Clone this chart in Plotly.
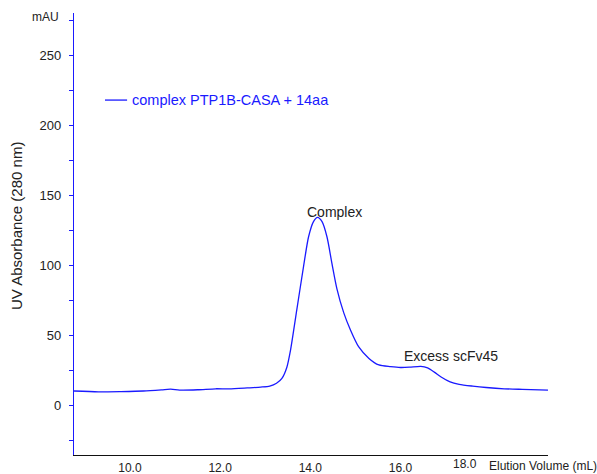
import plotly.graph_objects as go

# Elution volume (mL) and UV absorbance at 280 nm (mAU)
volume = [8.76, 9.3, 9.8, 10.3, 10.7, 10.9, 11.1, 11.5, 11.9, 12.2, 12.6, 12.9, 13.1,
          13.25, 13.37, 13.48, 13.56, 13.7, 13.85, 13.96, 14.07, 14.16, 14.26, 14.37,
          14.48, 14.59, 14.74, 14.89, 15.07, 15.3, 15.52, 15.78, 16.0, 16.2, 16.45,
          16.6, 16.75, 16.9, 17.1, 17.3, 17.6, 17.9, 18.3, 18.7, 19.27]
absorbance = [10.0, 9.4, 9.6, 10.0, 10.8, 11.3, 10.7, 10.9, 11.6, 11.5, 12.2, 12.8, 13.5,
              15.5, 19.0, 27.0, 39.0, 68.0, 99.0, 120.0, 131.0, 134.0, 131.0, 120.0,
              101.0, 83.0, 66.0, 53.6, 41.7, 33.3, 28.6, 27.4, 26.8, 27.0, 27.6,
              26.5, 23.5, 20.0, 16.5, 14.8, 13.5, 12.5, 11.6, 11.2, 10.7]

series_name = "complex PTP1B-CASA + 14aa"
x_ticks = [10, 12, 14, 16]
x_tick_text = ["10.0", "12.0", "14.0", "16.0"]
y_ticks = [0, 50, 100, 150, 200, 250]

# Peak annotations: (label, volume, absorbance at label centre)
peak_labels = [("Complex", 14.53, 138), ("Excess scFv45", 17.13, 35)]

FONT = "Liberation Sans, Arial, sans-serif"
BLUE = "#1a1aff"
INK = "#222222"

fig = go.Figure()
fig.add_trace(go.Scatter(
    x=volume, y=absorbance, mode="lines",
    line=dict(color=BLUE, width=1.3, shape="spline", smoothing=0.7),
    name=series_name, showlegend=False,
))

for text, xv, yv in peak_labels:
    fig.add_annotation(x=xv, y=yv, text=text, showarrow=False, xref="x", yref="y",
                       font=dict(family=FONT, size=14, color=INK), yanchor="middle")

# Legend entry drawn inside the plot
fig.add_shape(type="line", xref="paper", yref="paper", x0=0.0654, x1=0.112, y0=0.803, y1=0.803,
              line=dict(color=BLUE, width=1.3))
fig.add_annotation(xref="paper", yref="paper", x=0.118, y=0.803, text=series_name,
                   showarrow=False, xanchor="left", yanchor="middle",
                   font=dict(family=FONT, size=14.5, color=BLUE))

# Unit label at the top of the y axis
fig.add_annotation(xref="paper", yref="paper", x=-0.061, y=0.991, text="mAU", showarrow=False,
                   xanchor="center", yanchor="middle", font=dict(family=FONT, size=12, color=INK))

# Last tick label and axis title share the right end of the x axis
fig.add_annotation(xref="paper", yref="paper", x=0.825, y=-0.0204, text="18.0", showarrow=False,
                   xanchor="center", yanchor="middle", font=dict(family=FONT, size=12, color=INK))
fig.add_annotation(xref="paper", yref="paper", x=0.871, y=-0.0249, text="Elution Volume (mL)",
                   showarrow=False, xanchor="left", yanchor="middle",
                   font=dict(family=FONT, size=12, color=INK))

# Rotated y-axis title
fig.add_annotation(xref="paper", yref="paper", x=-0.1224, y=0.518, text="UV Absorbance (280 nm)",
                   showarrow=False, textangle=-90, xanchor="center", yanchor="middle",
                   font=dict(family=FONT, size=15, color=INK))

fig.update_layout(
    width=597, height=474,
    margin=dict(l=74, r=49, t=13, b=19),
    paper_bgcolor="white", plot_bgcolor="white",
    font=dict(family=FONT, size=13, color=INK),
    xaxis=dict(range=[8.76, 19.27], tickvals=x_ticks, ticktext=x_tick_text,
               showline=True, linecolor="#111111", linewidth=1.2, ticks="",
               showgrid=False, zeroline=False, ticklabelstandoff=1, automargin=False,
               tickfont=dict(size=12)),
    yaxis=dict(range=[-35.7, 280], tickvals=y_ticks, showline=True, linecolor=BLUE,
               linewidth=1.3, ticks="outside", ticklen=4, tickcolor=BLUE, tickwidth=1,
               minor=dict(dtick=25, tick0=0, ticks="outside", ticklen=4, tickcolor=BLUE),
               showgrid=False, zeroline=False, ticklabelstandoff=5, automargin=False),
)

fig.write_html("out.html")
